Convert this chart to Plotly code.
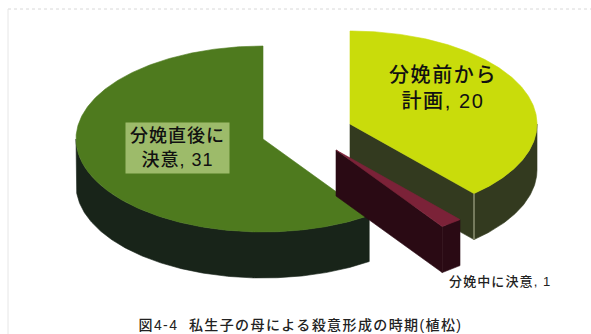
import math
import plotly.graph_objects as go

# Share of cases by when the intent formed
categories = ["分娩前から計画", "分娩中に決意", "分娩直後に決意"]
values = [20, 1, 31]
top_colors = ["#c9dc0b", "#7b2238", "#4e7a1e"]
side_colors = ["#333a1f", "#2a0a14", "#182419"]
apexes = [(350, 124), (336, 150), (263, 139)]

RX, RY, DEPTH = 187, 93, 46
W, H = 591, 334
FONT = "Liberation Sans, Noto Sans CJK JP"


def point(apex, deg, drop=0):
    t = math.radians(deg)
    return apex[0] + RX * math.sin(t), apex[1] - RY * math.cos(t) + drop


def arc(apex, a, b, drop=0):
    n = max(2, int(abs(b - a) * 2))
    return [point(apex, a + (b - a) * i / n, drop) for i in range(n + 1)]


def polygon(fig, pts, color, line=None):
    fig.add_trace(go.Scatter(
        x=[p[0] for p in pts] + [pts[0][0]],
        y=[p[1] for p in pts] + [pts[0][1]],
        mode="lines", fill="toself", fillcolor=color,
        line=dict(color=line or color, width=0.6),
        hoverinfo="skip", showlegend=False,
    ))


total = sum(values)
spans = []
start = 0.0
for v in values:
    spans.append((start, start + v / total * 360))
    start += v / total * 360

fig = go.Figure()

# Slices are painted back to front: green, then yellow, then the pulled-out sliver
for i in (2, 0, 1):
    a, b = spans[i]
    apex = apexes[i]
    lo, hi = max(a, 90), min(b, 270)
    rim = arc(apex, lo, hi)
    polygon(fig, rim + arc(apex, hi, lo, DEPTH), side_colors[i])
    if b < 180:
        # radial cut face on the trailing edge of the slice
        cut = [apex, point(apex, b), point(apex, b, DEPTH), (apex[0], apex[1] + DEPTH)]
        polygon(fig, cut, side_colors[i])
    if i == 0:
        # pale seam where the cut face meets the rim
        seam = [point(apex, b), point(apex, b, DEPTH)]
        fig.add_trace(go.Scatter(x=[p[0] for p in seam], y=[p[1] for p in seam], mode="lines",
                                 line=dict(color="#b9bd9c", width=1),
                                 hoverinfo="skip", showlegend=False))
    polygon(fig, [apex] + arc(apex, a, b), top_colors[i])

fig.add_annotation(x=177.5, y=148, text="分娩直後に<br>決意, 31", showarrow=False,
                   bgcolor="#9dbb6a", width=103, height=50, borderpad=0,
                   font=dict(size=18, color="#111111", family=FONT, weight=500))
fig.add_annotation(x=443, y=88, text="分娩前から<br>計画, 20", showarrow=False,
                   font=dict(size=20, color="#111111", family=FONT, weight=500))
fig.add_annotation(x=499.5, y=281, text="分娩中に決意, 1", showarrow=False,
                   font=dict(size=13, color="#222222", family=FONT, weight=500))
fig.add_annotation(x=300, y=325, text="図4-4  私生子の母による殺意形成の時期(植松)", showarrow=False,
                   font=dict(size=14, color="#222222", family=FONT, weight=500))

# Thin frame along the top and left of the panel
fig.add_shape(type="line", x0=8, x1=591, y0=9, y1=9, line=dict(color="#d8d8d8", width=1, dash="dot"))
fig.add_shape(type="line", x0=8, x1=8, y0=9, y1=334, line=dict(color="#e6e6e6", width=1))

fig.update_layout(
    width=W, height=H, margin=dict(l=0, r=0, t=0, b=0),
    paper_bgcolor="white", plot_bgcolor="white",
    font=dict(family=FONT),
    xaxis=dict(range=[0, W], visible=False, fixedrange=True),
    yaxis=dict(range=[H, 0], visible=False, fixedrange=True),
)

# Loosen the tracking of the Japanese labels
spacing = """
var t = document.querySelectorAll('.annotation-text');
var s = ['1px', '1.6px', '1.1px', '1.4px'];
t.forEach(function (e, i) { e.style.letterSpacing = s[i]; });
"""
fig.write_html("out.html", config=dict(displayModeBar=False), post_script=spacing)
